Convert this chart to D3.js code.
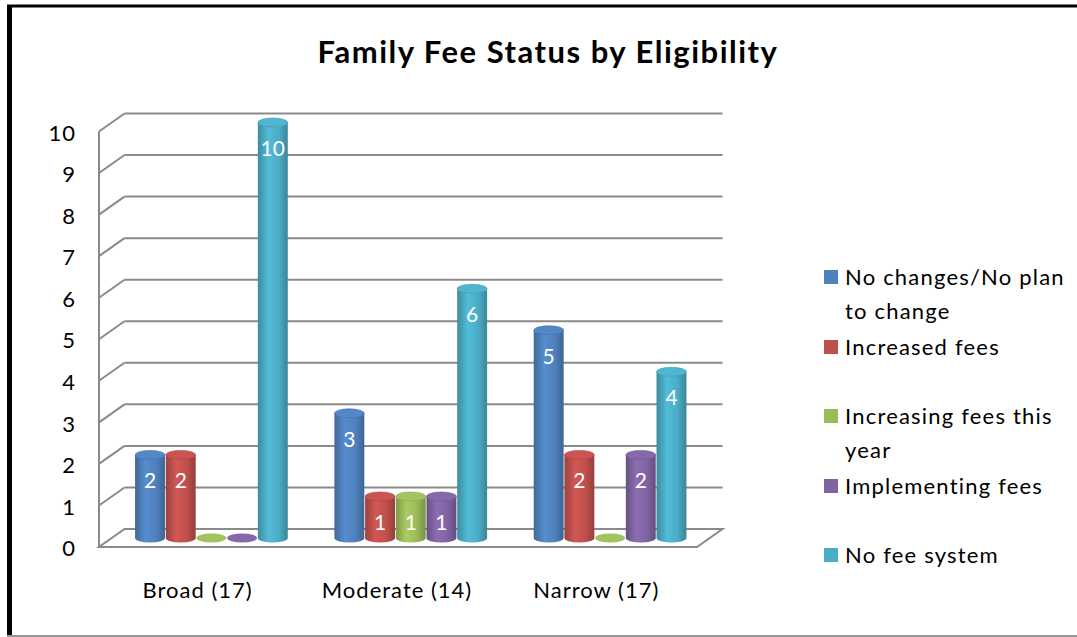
<!DOCTYPE html>
<html><head><meta charset="utf-8">
<script src="https://cdn.jsdelivr.net/npm/d3@7/dist/d3.min.js"></script>
<style>html,body{margin:0;padding:0;background:#fff;}svg{display:block;}</style>
</head><body>
<script>
const title = "Family Fee Status by Eligibility";
const categories = ["Broad (17)", "Moderate (14)", "Narrow (17)"];
const seriesNames = ["No changes/No plan to change", "Increased fees", "Increasing fees this year", "Implementing fees", "No fee system"];
const legendLines = [["No changes/No plan", "to change"], ["Increased fees"], ["Increasing fees this", "year"], ["Implementing fees"], ["No fee system"]];
const noChanges = [2, 3, 5];
const increased = [2, 1, 2];
const increasing = [0, 1, 0];
const implementing = [0, 1, 2];
const noFee = [10, 6, 4];
const yTicks = [0,1,2,3,4,5,6,7,8,9,10];
const colors = ["#4F81BD", "#C0504D", "#9BBB59", "#8064A2", "#4BACC6"];

const series = [noChanges, increased, increasing, implementing, noFee];
const W = 1077, H = 637;
const svg = d3.select("body").append("svg").attr("width", W).attr("height", H);
const font = "Lato, 'Open Sans', sans-serif";

// frame
svg.append("rect").attr("x",0).attr("y",0).attr("width",W).attr("height",H).attr("fill","#fff");
svg.append("line").attr("x1",7).attr("x2",W).attr("y1",6).attr("y2",6).attr("stroke","#000").attr("stroke-width",3);
svg.append("line").attr("x1",9.5).attr("x2",9.5).attr("y1",5).attr("y2",H).attr("stroke","#000").attr("stroke-width",5);
svg.append("line").attr("x1",7).attr("x2",W).attr("y1",636).attr("y2",636).attr("stroke","#999").attr("stroke-width",2);

// scales
const y = d3.scaleLinear().domain([0,10]).range([547, 131.5]);
const x0 = d3.scaleBand().domain(categories).range([99, 697]).paddingInner(0.23).paddingOuter(0.115);
const x1 = d3.scaleBand().domain(d3.range(series.length)).range([0, x0.bandwidth()]);
const DX = 25.5, DY = -18;

const grid = "#8a8a8a";
const g = svg.append("g");
yTicks.forEach(v => {
  if (v > 0) {
    g.append("line").attr("x1", 99).attr("y1", y(v)).attr("x2", 99+DX).attr("y2", y(v)+DY)
      .attr("stroke", grid).attr("stroke-width", 2);
    g.append("line").attr("x1", 99+DX).attr("y1", y(v)+DY).attr("x2", 697+DX).attr("y2", y(v)+DY)
      .attr("stroke", grid).attr("stroke-width", 2);
  }
});
// floor
g.append("path").attr("d", `M99,${y(0)} L697,${y(0)} L${697+DX},${y(0)+DY} L${99+DX},${y(0)+DY} Z`)
  .attr("fill","none").attr("stroke", grid).attr("stroke-width", 2);
g.append("line").attr("x1",99).attr("x2",99).attr("y1",y(0)).attr("y2",y(10))
  .attr("stroke", grid).attr("stroke-width", 2);

// tick labels
svg.append("g").selectAll("text").data(yTicks).join("text")
  .attr("x", 76).attr("y", d => y(d) + 1.5).attr("dy","0.35em").attr("text-anchor","end")
  .attr("font-family", font).attr("font-size", 22).attr("letter-spacing", 1).attr("fill","#000").text(d => d);

// category labels
svg.append("g").selectAll("text").data(categories).join("text")
  .attr("x", d => x0(d) + x0.bandwidth()/2 - 1).attr("y", 590).attr("dy","0.35em").attr("text-anchor","middle")
  .attr("font-family", font).attr("font-size", 22).attr("letter-spacing", 1).attr("fill","#000").text(d => d);

// gradients
const defs = svg.append("defs");
colors.forEach((c, i) => {
  const base = d3.color(c);
  const gr = defs.append("linearGradient").attr("id","grad"+i).attr("x1","0%").attr("x2","100%").attr("y1","0%").attr("y2","0%");
  gr.append("stop").attr("offset","0%").attr("stop-color", base.darker(0.6));
  gr.append("stop").attr("offset","35%").attr("stop-color", base.brighter(0.25));
  gr.append("stop").attr("offset","70%").attr("stop-color", base);
  gr.append("stop").attr("offset","100%").attr("stop-color", base.darker(0.7));
});

// cylinders
const midX = DX/2, midY = DY/2;
const ry = 4.5;
const bars = svg.append("g");
categories.forEach((cat, ci) => {
  series.forEach((vals, si) => {
    const v = vals[ci];
    const w = x1.bandwidth() - 0.8;
    const cx = x0(cat) + x1(si) + x1.bandwidth()/2 + midX;
    const rx = w/2;
    const yb = y(0) + midY;
    const yt = y(v) + midY;
    const base = d3.color(colors[si]);
    const grp = bars.append("g");
    if (v === 0) {
      grp.append("ellipse").attr("cx", cx).attr("cy", yb).attr("rx", rx).attr("ry", ry)
        .attr("fill", base.brighter(0.1));
      return;
    }
    grp.append("path")
      .attr("d", `M${cx-rx},${yt} L${cx-rx},${yb} A${rx},${ry} 0 0 0 ${cx+rx},${yb} L${cx+rx},${yt} Z`)
      .attr("fill", `url(#grad${si})`);
    grp.append("ellipse").attr("cx", cx).attr("cy", yt).attr("rx", rx).attr("ry", ry)
      .attr("fill", base.brighter(0.15)).attr("stroke", base.darker(0.3)).attr("stroke-width", 0.6);
    grp.append("text").attr("x", cx).attr("y", yt + 26).attr("dy","0.35em").attr("text-anchor","middle")
      .attr("font-family", font).attr("font-size", 21).attr("fill","#fff").text(v);
  });
});

// title
svg.append("text").attr("x", 548).attr("y", 52).attr("dy","0.35em").attr("text-anchor","middle")
  .attr("font-family", font).attr("font-weight","bold").attr("font-size", 31).attr("letter-spacing", 1.5)
  .attr("fill","#000").text(title);

// legend
const leg = svg.append("g");
const legY = [277, 347, 416, 486, 555];
legendLines.forEach((lines, i) => {
  leg.append("rect").attr("x", 824).attr("y", legY[i]-7).attr("width", 14).attr("height", 14).attr("fill", colors[i]);
  lines.forEach((t, j) => {
    leg.append("text").attr("x", 845).attr("y", legY[i] + j*34).attr("dy","0.35em")
      .attr("font-family", font).attr("font-size", 22).attr("letter-spacing", 1.2).attr("fill","#000").text(t);
  });
});
</script>
</body></html>
